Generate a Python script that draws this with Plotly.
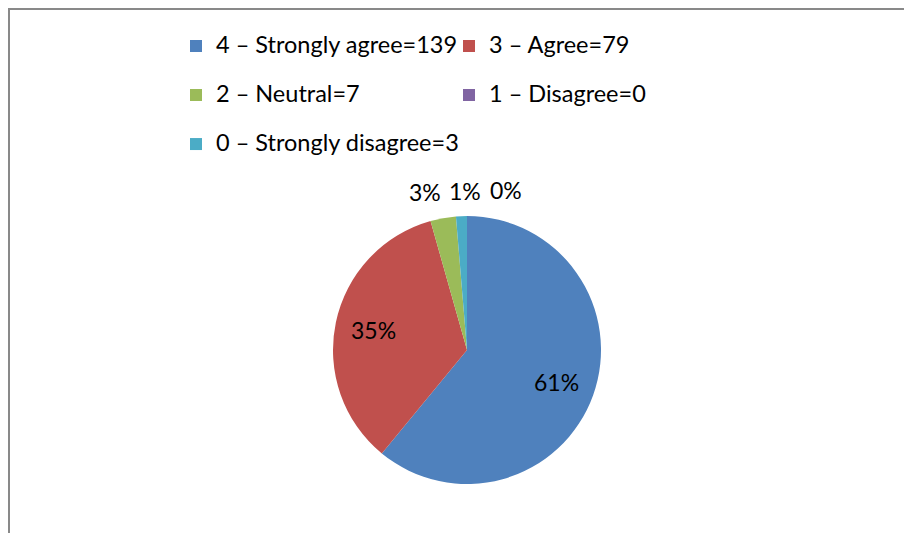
import math
import plotly.graph_objects as go

# ---- data ----
labels = ["4 – Strongly agree=139", "3 – Agree=79", "2 – Neutral=7",
          "1 – Disagree=0", "0 – Strongly disagree=3"]
values = [139, 79, 7, 0, 3]
colors = ["#4F81BD", "#C0504D", "#9BBB59", "#8064A2", "#4BACC6"]

FONT = "Lato"
W, H = 912, 533
ML, MR, MT, MB = 150, 150, 0, 0
PW, PH = W - ML - MR, H - MT - MB
OFF = 8  # page offset of the figure in the browser


def px(xs):
    return (xs - OFF - ML) / PW


def py(ys):
    return 1 - (ys - OFF - MT) / PH


# pie geometry (screen pixels)
cx, cy, r = 467, 350, 134

legend_labels = [f"<span style='font-size:23.5px'>{l}</span><br> " for l in labels]

fig = go.Figure(go.Pie(
    labels=legend_labels,
    values=values,
    marker=dict(colors=colors, line=dict(width=0)),
    sort=False,
    direction="clockwise",
    rotation=0,
    textinfo="none",
    hoverinfo="label+value+percent",
    domain=dict(x=[px(cx - r), px(cx + r)], y=[py(cy + r), py(cy - r)]),
    showlegend=True,
))

# ---- data labels (percentages) ----
total = sum(values)
inside_factor = 0.71
outside_pos = {2: (425, 192), 3: (506, 190), 4: (465, 191)}
annotations = []
cum = 0
for i, v in enumerate(values):
    mid = (cum + v / 2) / total * 2 * math.pi
    cum += v
    txt = f"{v / total:.0%}"
    if i in outside_pos:
        xs, ys = outside_pos[i]
    else:
        xs = cx + inside_factor * r * math.sin(mid)
        ys = cy - inside_factor * r * math.cos(mid)
    annotations.append(dict(
        x=px(xs), y=py(ys), xref="paper", yref="paper",
        text=txt, showarrow=False, xanchor="center", yanchor="middle",
        font=dict(family=FONT, size=23, color="#000000"),
    ))

fig.update_layout(
    width=W, height=H,
    margin=dict(l=ML, r=MR, t=MT, b=MB),
    paper_bgcolor="white",
    plot_bgcolor="white",
    font=dict(family=FONT, color="#000000"),
    annotations=annotations,
    legend=dict(
        orientation="h",
        x=px(176), xanchor="left",
        y=py(28), yanchor="top",
        font=dict(family=FONT, size=17.7, color="#000000"),
        entrywidth=228,
        valign="top",
        bgcolor="rgba(0,0,0,0)",
        borderwidth=0,
    ),
    shapes=[dict(
        type="rect", xref="paper", yref="paper",
        x0=px(OFF + 1), x1=px(W + 40),
        y0=py(H + 40), y1=py(OFF + 1),
        line=dict(color="#898989", width=2),
        fillcolor="rgba(0,0,0,0)", layer="above",
    )],
)

fig.write_html("out.html")
